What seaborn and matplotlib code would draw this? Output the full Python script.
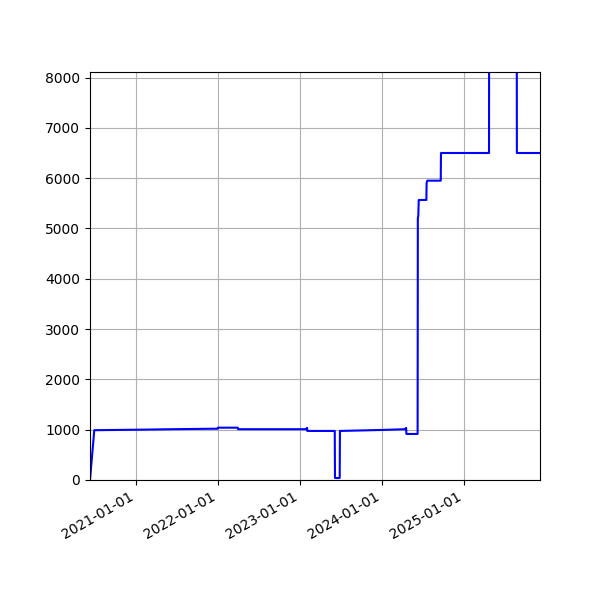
import numpy as np
import pandas as pd
import matplotlib
matplotlib.use("Agg")
import matplotlib.pyplot as plt
import matplotlib.dates as mdates
import seaborn as sns

# step corners
dates = [
    "2020-06-10", "2020-06-29", "2021-01-15", "2021-06-15", "2021-12-31",
    "2022-01-01", "2022-03-30", "2022-03-31", "2023-01-31", "2023-02-01",
    "2023-02-02", "2023-02-03", "2023-06-05", "2023-06-06", "2023-06-27",
    "2023-06-28", "2024-01-01", "2024-04-16", "2024-04-17", "2024-04-18",
    "2024-04-19", "2024-06-08", "2024-06-09", "2024-06-11", "2024-06-13",
    "2024-07-17", "2024-07-18", "2024-07-21", "2024-09-19", "2024-09-20",
    "2025-04-22", "2025-04-23", "2025-08-23", "2025-08-24", "2025-12-05",
]
values = [
    0, 990, 1000, 1010, 1020,
    1040, 1040, 1010, 1010, 1035,
    1035, 975, 975, 40, 40,
    975, 995, 1010, 1035, 1035,
    915, 915, 5200, 5250, 5566,
    5566, 5900, 5950, 5950, 6500,
    6500, 12000, 12000, 6500, 6500,
]

x = pd.to_datetime(dates)
y = np.array(values)

fig, ax = plt.subplots(figsize=(6, 6), dpi=100)
sns.lineplot(x=x, y=y, color="blue", linewidth=1.5, ax=ax)

ax.set_xlim(x[0], x[-1])
ax.set_ylim(0, 8110)
ax.xaxis.set_major_locator(mdates.YearLocator())
ax.xaxis.set_major_formatter(mdates.DateFormatter("%Y-%m-%d"))
ax.grid(True)
ax.set(xlabel="", ylabel="")

fig.autofmt_xdate()
fig.subplots_adjust(left=0.15, right=0.9, top=0.88, bottom=0.2)
fig.savefig("out.png")
